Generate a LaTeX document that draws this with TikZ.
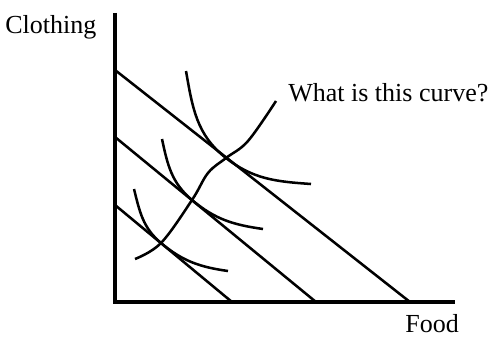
\documentclass[tikz,border=0pt]{standalone}
\usepackage{fontspec}
\setmainfont{Liberation Serif}
\usetikzlibrary{positioning}
\tikzset{
  axis/.style={line width=2.4pt, draw=black},
  budget/.style={line width=1.8pt, draw=black},
  indiff/.style={line width=1.8pt, draw=black},
  lbl/.style={inner sep=0pt, anchor=base west, font=\fontsize{18.5}{22}\selectfont}
}

\begin{document}
\begin{tikzpicture}[x=0.025cm, y=0.025cm]
  \useasboundingbox (0,0) rectangle (491,337);

  % axes
  \coordinate (origin) at (115,35);
  \coordinate (ytop) at (115,324);
  \coordinate (xend) at (455,35);
  \draw[axis] (ytop) -- (origin) -- (xend);

  % budget lines
  \coordinate (b1s) at (115,267);
  \coordinate (b1e) at (410,35);
  \coordinate (b2s) at (115,200);
  \coordinate (b2e) at (316,35);
  \coordinate (b3s) at (115,132);
  \coordinate (b3e) at (232,35);
  \draw[budget] (b1s) -- (b1e);
  \draw[budget] (b2s) -- (b2e);
  \draw[budget] (b3s) -- (b3e);

  % indifference curves, touching the budget lines
  \coordinate (t1) at (226,179);
  \coordinate (t2) at (192,137);
  \coordinate (t3) at (161,94);
  \draw[indiff] (186,266) to[out=-80, in=142] (t1) to[out=-38, in=176] (311,153);
  \draw[indiff] (162,198) to[out=-78, in=140] (t2) to[out=-40, in=172] (263,108);
  \draw[indiff] (134,148) to[out=-76, in=140] (t3) to[out=-40, in=172] (228,66);

  % income expansion path
  \draw[indiff] plot[smooth, tension=0.6] coordinates {(135,78) (t3) (t2) (208,164) (t1) (248,196) (276,236)};

  % labels
  \node[lbl] (clothing) at (5,304) {Clothing};
  \node[lbl] (question) at (288,236) {What is this curve?};
  \node[lbl] (food) at (405,5) {Food};
\end{tikzpicture}
\end{document}
